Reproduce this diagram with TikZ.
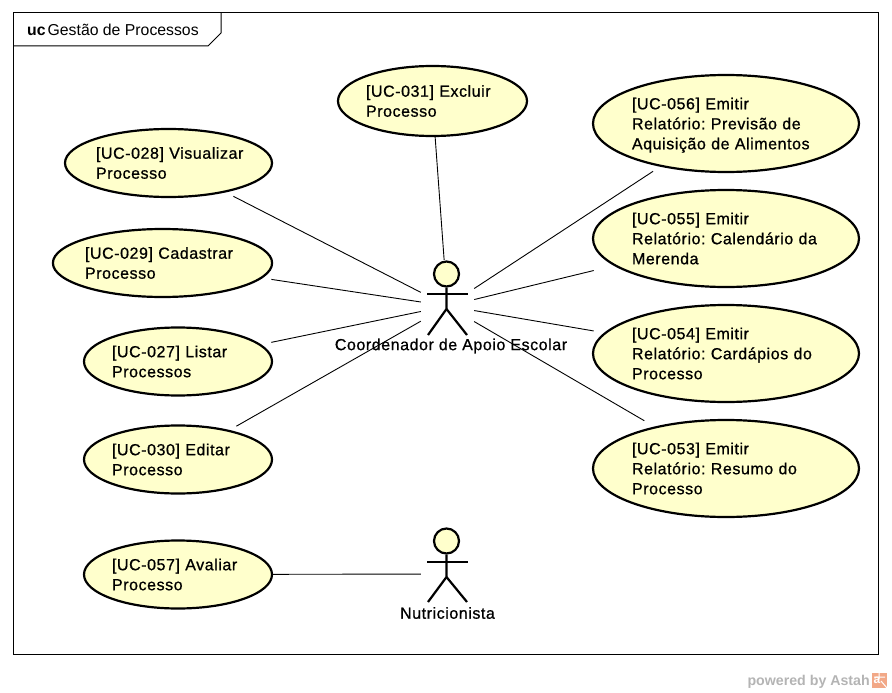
\documentclass[tikz,border=0pt]{standalone}
\usepackage{fontspec}
\setmainfont{Liberation Sans}
\newfontfamily\ucfont[FakeBold=0.8,LetterSpace=3.5]{Liberation Sans}
\usetikzlibrary{shapes.geometric,fit}
\definecolor{ucfill}{HTML}{FFFFCC}
\definecolor{astahgray}{HTML}{B4B4B4}
\definecolor{astahorange}{HTML}{F2A887}
\tikzset{
  usecase/.style={ellipse, draw=black, line width=2.2pt, fill=ucfill, inner sep=0pt, align=left, font=\ucfont\frenchspacing\fontsize{16}{20}\selectfont},
  ucsmall/.style={usecase, minimum width=188pt, minimum height=68pt},
  ucbig/.style={usecase, minimum width=266pt, minimum height=97pt, text width=188pt},
  ghost/.style={rectangle, inner sep=-2pt, draw=none, fill=none},
  actorbox/.style={rectangle, inner sep=0pt, draw=none, fill=none, minimum width=53pt, minimum height=92pt},
  head/.style={circle, draw=black, line width=2.2pt, fill=ucfill, inner sep=0pt, minimum size=25pt},
  limb/.style={line width=2.2pt, draw=black},
  actorname/.style={inner sep=0pt, font=\ucfont\fontsize{16}{20}\selectfont},
  assoc/.style={draw=black, line width=0.9pt}
}
\begin{document}
\begin{tikzpicture}[x=1pt, y=-1pt]
\useasboundingbox (0,0) rectangle (892,693);

% frame and title tab
\draw [line width=1pt, draw=black, fill=white] (13,13) rectangle (878,654);
\draw [line width=1pt, draw=black] (13,46) -- (208,46) -- (221,33) -- (221,13);
\node[inner sep=0pt, anchor=base west, font=\fontsize{15.8}{20}\selectfont] (title) at (27,36) {\textbf{uc}\hspace{2pt}Gestão de Processos};

% use cases on the left
\node[ucsmall, minimum width=207pt, text width=145pt] (uc028) at (168.5,163) {\mbox{[UC-028] Visualizar}\\Processo};
\node[ucsmall, minimum width=219pt, text width=155pt] (uc029) at (162.5,263) {[UC-029] Cadastrar\\Processo};
\node[ucsmall, text width=132pt] (uc027) at (178,361.5) {[UC-027] Listar\\Processos};
\node[ucsmall, text width=132pt] (uc030) at (178,459.5) {[UC-030] Editar\\Processo};
\node[ucsmall, text width=132pt] (uc057) at (178,574.5) {[UC-057] Avaliar\\Processo};

% use case on top
\node[ucsmall, minimum height=70pt, minimum width=189pt, text width=133pt] (uc031) at (432.5,101) {[UC-031] Excluir\\Processo};

% use cases on the right
\node[ucbig] (uc056) at (726,123.5) {[UC-056] Emitir\\Relatório: Previsão de\\\smash{Aquisição de Alimentos}};
\node[ucbig] (uc055) at (726,238.5) {[UC-055] Emitir\\Relatório: Calendário da\\Merenda};
\node[ucbig] (uc054) at (726,353.5) {[UC-054] Emitir\\Relatório: Cardápios do\\Processo};
\node[ucbig] (uc053) at (726,468.5) {[UC-053] Emitir\\Relatório: Resumo do\\Processo};

% boxes the connectors stop at
\foreach \uc in {028,029,027,030,057,031,056,055,054,053}
  \node[ghost, fit=(uc\uc)] (box\uc) {};

% actors
\node[actorbox] (coord) at (447.5,306) {};
\node[head] (coordhead) at (446.5,274) {};
\draw[limb] (coordhead.south) -- (446.5,309) -- (428,335);
\draw[limb] (446.5,309) -- (467,335);
\draw[limb] (427,294) -- (468,294);
\node[actorname] (coordname) at (451,346) {Coordenador de Apoio Escolar};

\node[actorbox] (nutri) at (447.5,574) {};
\node[head] (nutrihead) at (446.5,541) {};
\draw[limb] (nutrihead.south) -- (446.5,577) -- (428,602);
\draw[limb] (446.5,577) -- (467,602);
\draw[limb] (427,562) -- (468,562);
\node[actorname] (nutriname) at (447.5,613) {Nutricionista};

% associations
\foreach \uc in {028,029,027,030,031,056,055,054,053}
  \draw[assoc] (box\uc) -- (coord);
\draw[assoc] (box057) -- (nutri);

% watermark
\node[inner sep=0pt, anchor=base east, text=astahgray, font=\fontsize{14.2}{16}\selectfont\bfseries] (powered) at (870,685) {powered by Astah};
\node[inner sep=0pt, minimum size=15pt, fill=astahorange, text=white, font=\fontsize{12}{12}\selectfont\bfseries] (logo) at (879.5,680.5) {\raisebox{-2.5pt}{\hspace{-5pt}a}};
\draw[white, line width=1pt] (879,673) -- (879,679) (874,677) -- (885,677) (881,681) -- (887,688);
\end{tikzpicture}
\end{document}
